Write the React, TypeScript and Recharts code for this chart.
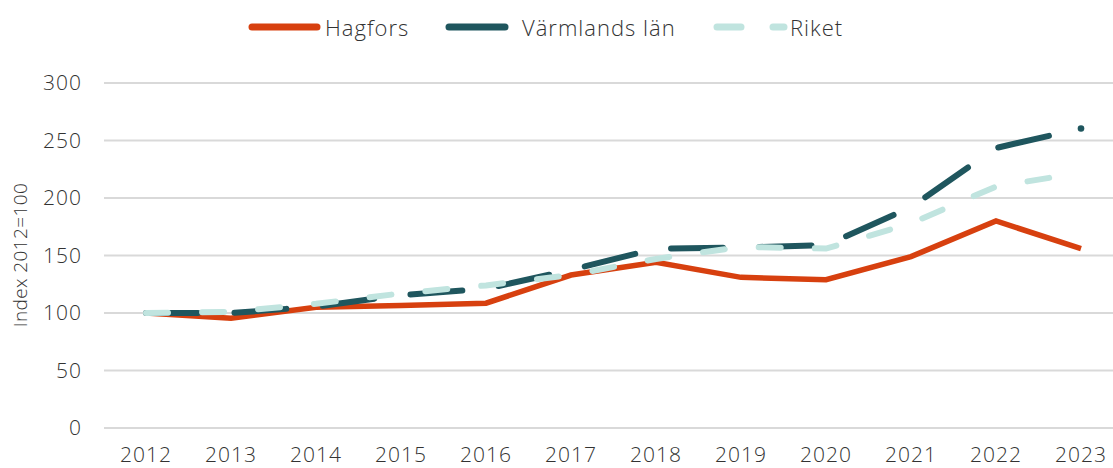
import React from 'react';
import { LineChart, Line, XAxis, YAxis, CartesianGrid } from 'recharts';

const years = ['2012', '2013', '2014', '2015', '2016', '2017', '2018', '2019', '2020', '2021', '2022', '2023'];
const hagfors = [100, 95.5, 105, 106.5, 108.5, 133, 144, 131, 129, 149, 180, 156];
const varmland = [100, 100, 105.5, 115.5, 121, 137.5, 156, 157, 159, 192, 243.5, 260.5];
const riket = [100, 101, 108, 117, 124, 133, 147, 157.5, 156, 178, 210, 222];
const yTicks = [0, 50, 100, 150, 200, 250, 300];

const data = years.map((y, i) => ({ year: y, hagfors: hagfors[i], varmland: varmland[i], riket: riket[i] }));

const FONT = '"Open Sans", sans-serif';
const RED = '#D7400F';
const DARK = '#1F565E';
const LIGHT = '#C0E4DF';
const TEXT = '#333333';

const YLabel = () => (
  <text
    x={20}
    y={255}
    transform="rotate(-90, 20, 255)"
    textAnchor="middle"
    dominantBaseline="central"
    fontFamily={FONT}
    fontWeight={300}
    fontSize={19}
    letterSpacing={0.4}
    fill={TEXT}
  >
    Index 2012=100
  </text>
);

const legendText = { fontFamily: FONT, fontWeight: 300, fontSize: 22, fill: TEXT, letterSpacing: 1 } as const;

const LegendOverlay = () => (
  <svg width={1113} height={60} style={{ position: 'absolute', left: 0, top: 0 }}>
    <line x1={252} y1={27} x2={317} y2={27} stroke={RED} strokeWidth={7} strokeLinecap="round" />
    <text x={325} y={27} dominantBaseline="central" {...legendText}>Hagfors</text>
    <line x1={449} y1={27} x2={505} y2={27} stroke={DARK} strokeWidth={7} strokeLinecap="round" />
    <text x={522} y={27} dominantBaseline="central" {...legendText}>Värmlands län</text>
    <line x1={717} y1={27} x2={784} y2={27} stroke={LIGHT} strokeWidth={7} strokeLinecap="round" strokeDasharray="24 32" />
    <text x={790} y={27} dominantBaseline="central" {...legendText}>Riket</text>
  </svg>
);

const tickStyle = { fontFamily: FONT, fontWeight: 300, fontSize: 21, fill: TEXT, letterSpacing: 1 };

const EndDot = (props: any) => {
  const { cx, cy, index } = props;
  if (index !== data.length - 1) return <g key={`d${index}`} />;
  return <circle key={`d${index}`} cx={cx} cy={cy} r={3.3} fill={DARK} />;
};

export default function App() {
  return (
    <div style={{ position: 'absolute', left: 0, top: 0, width: 1113, height: 468 }}>
      <LineChart width={1113} height={468} data={data} margin={{ top: 83, right: 0, bottom: 0, left: 0 }}>
        <CartesianGrid vertical={false} stroke="#D9D9D9" strokeWidth={2} />
        <XAxis
          dataKey="year"
          axisLine={false}
          tickLine={false}
          tickSize={0}
          tickMargin={19}
          height={40}
          interval={0}
          padding={{ left: 42, right: 32 }}
          tick={tickStyle}
        />
        <YAxis
          domain={[0, 300]}
          ticks={yTicks}
          axisLine={false}
          tickLine={false}
          tickSize={0}
          tickMargin={22}
          width={104}
          interval={0}
          tick={tickStyle}
          label={<YLabel />}
        />
        <Line type="linear" dataKey="hagfors" stroke={RED} strokeWidth={5.5} dot={false} isAnimationActive={false} />
        <Line type="linear" dataKey="varmland" stroke={DARK} strokeWidth={6} dot={EndDot} activeDot={false} isAnimationActive={false} strokeLinecap="round" strokeDasharray="52 36.5" />
        <Line type="linear" dataKey="riket" stroke={LIGHT} strokeWidth={6} dot={false} isAnimationActive={false} strokeLinecap="round" strokeDasharray="22 34.1" />
      </LineChart>
      <LegendOverlay />
    </div>
  );
}
